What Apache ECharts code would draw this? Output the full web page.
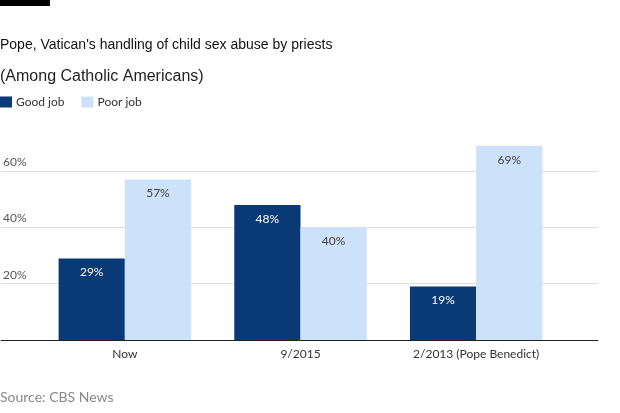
<!DOCTYPE html>
<html>
<head>
<meta charset="utf-8">
<script src="https://cdn.jsdelivr.net/npm/echarts@6/dist/echarts.min.js"></script>
<style>
html,body{margin:0;padding:0;background:#fff;}
#c{width:620px;height:413px;}
</style>
</head>
<body>
<div id="c"></div>
<script>
const categories = ['Now', '9/2015', '2/2013 (Pope Benedict)'];
const goodJob = [29, 48, 19];
const poorJob = [57, 40, 69];
const yTicks = [20, 40, 60];

const chart = echarts.init(document.getElementById('c'), null, {renderer: 'canvas'});
const font = 'Lato, "Open Sans", sans-serif';
const option = {
  animation: false,
  backgroundColor: '#fff',
  title: [
    {text: 'Pope, Vatican\'s handling of child sex abuse by priests', left: -5, top: 33,
     textStyle: {fontFamily: '"Liberation Sans", Arial, sans-serif', fontSize: 14, fontWeight: 'normal', color: '#111'}},
    {text: '(Among Catholic Americans)', left: -5, top: 64,
     textStyle: {fontFamily: '"Liberation Sans", Arial, sans-serif', fontSize: 16, fontWeight: 'normal', color: '#222'}},
    {text: 'Source: CBS News', left: -5, top: 385,
     textStyle: {fontFamily: font, fontSize: 14, fontWeight: 'normal', color: '#888'}}
  ],
  graphic: [{type: 'rect', left: 0, top: 0, shape: {width: 50, height: 6}, style: {fill: '#000'}}],
  legend: {
    left: 0, top: 96, itemWidth: 12, itemHeight: 11, itemGap: 17, padding: 0,
    icon: 'rect',
    textStyle: {fontFamily: font, fontSize: 12, color: '#333', padding: [0, 0, 0, -1]},
    data: ['Good job', 'Poor job']
  },
  grid: [
    {left: 0, right: 22, top: 143, bottom: 73},
    {left: 37, right: 56, top: 143, bottom: 73}
  ],
  xAxis: [
    {gridIndex: 0, type: 'category', data: [''], axisLine: {show: true, lineStyle: {color: '#222', width: 1}},
     axisTick: {show: false}, axisLabel: {show: false}, z: 5},
    {gridIndex: 1, type: 'category', data: categories, axisLine: {show: false}, axisTick: {show: false},
     axisLabel: {fontFamily: font, fontSize: 12, color: '#333', margin: 8}}
  ],
  yAxis: [
    {gridIndex: 0, type: 'value', min: 0, max: 70, interval: 20,
     axisLine: {show: false}, axisTick: {show: false},
     splitLine: {show: false},
     axisLabel: {inside: true, margin: 2, verticalAlign: 'bottom', padding: [0, 0, 3, 0],
       fontFamily: font, fontSize: 12, color: '#555',
       formatter: v => (yTicks.indexOf(v) >= 0 ? v + '%' : '')}},
    {gridIndex: 1, type: 'value', min: 0, max: 70, interval: 20, show: false, splitLine: {show: false}}
  ],
  series: [
    {type: 'line', xAxisIndex: 0, yAxisIndex: 0, data: [], silent: true, z: 0, zlevel: 0,
     markLine: {symbol: 'none', silent: true, label: {show: false}, z: 0,
       lineStyle: {color: '#ddd', width: 1, type: 'solid'},
       data: yTicks.map(v => ({yAxis: v}))}},
    {name: 'Good job', type: 'bar', xAxisIndex: 1, yAxisIndex: 1, data: goodJob, z: 3,
     barGap: '0%', barCategoryGap: '24.6%',
     itemStyle: {color: '#0a3a75'},
     label: {show: true, position: 'insideTop', distance: 8, formatter: '{c}%',
       fontFamily: font, fontSize: 12, color: '#fff'}},
    {name: 'Poor job', type: 'bar', xAxisIndex: 1, yAxisIndex: 1, data: poorJob, z: 3,
     barGap: '0%', barCategoryGap: '24.6%',
     itemStyle: {color: '#cde1fb'},
     label: {show: true, position: 'insideTop', distance: 8, formatter: '{c}%',
       fontFamily: font, fontSize: 12, color: '#444'}}
  ]
};
chart.setOption(option);
</script>
</body>
</html>
